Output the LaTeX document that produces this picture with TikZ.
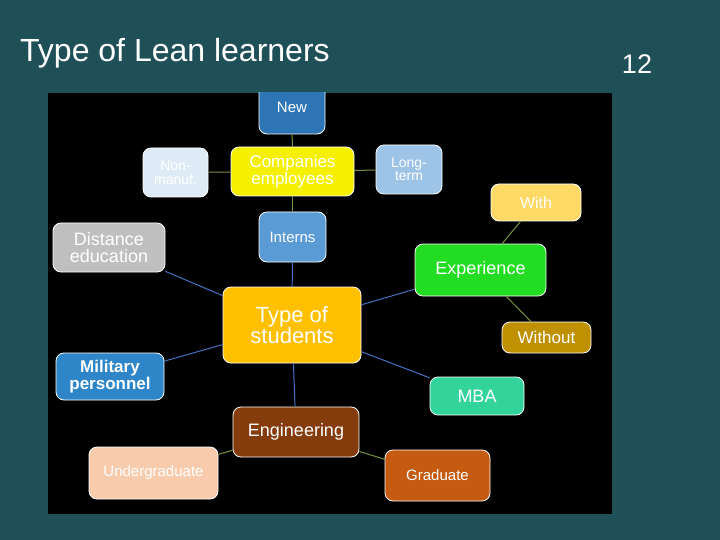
\documentclass[tikz,border=0pt]{standalone}
\usepackage{fontspec}
\setmainfont{Liberation Sans}
\usetikzlibrary{positioning}

\definecolor{slidebg}{RGB}{31,80,87}
\definecolor{linkgreen}{RGB}{119,147,60}
\definecolor{linkblue}{RGB}{68,114,196}
\definecolor{newblue}{RGB}{46,117,182}
\definecolor{compyellow}{RGB}{245,240,0}
\definecolor{nonblue}{RGB}{222,235,247}
\definecolor{longblue}{RGB}{157,195,230}
\definecolor{internblue}{RGB}{91,155,213}
\definecolor{distgray}{RGB}{191,191,191}
\definecolor{withyellow}{RGB}{255,217,102}
\definecolor{expgreen}{RGB}{34,221,34}
\definecolor{withoutgold}{RGB}{191,144,0}
\definecolor{typeorange}{RGB}{255,192,0}
\definecolor{milblue}{RGB}{46,134,200}
\definecolor{engbrown}{RGB}{132,60,12}
\definecolor{underpeach}{RGB}{248,203,173}
\definecolor{mbagreen}{RGB}{51,212,156}
\definecolor{gradorange}{RGB}{197,90,17}

\newcommand{\fs}[2]{\fontsize{#1}{#2}\selectfont}

\begin{document}
\begin{tikzpicture}[x = 1pt, y = -1pt,
  box/.style = {draw = white, line width = 0.8pt, rounded corners = 8pt,
                text = white, align = center, inner sep = 0pt},
  greenlink/.style = {draw = linkgreen, line width = 1pt},
  bluelink/.style = {draw = linkblue, line width = 1pt}]
% slide
\fill[slidebg] (0,0) rectangle (720,540);
\fill[black] (48,93) rectangle (612,514);
\node[anchor = base west, text = white, inner sep = 0pt, font = \fs{32}{38}] (title) at (20,62) {Type of Lean learners};
\node[anchor = base, text = white, inner sep = 0pt, font = \fs{27}{32}] (page) at (637,74) {12};

% boxes
\begin{scope}
\clip (48,93) rectangle (612,514);
\node[box, fill = newblue, minimum width = 66pt, minimum height = 54pt, font = \fs{15}{16}] (new) at (292,107) {New};
\end{scope}
\node[box, fill = compyellow, minimum width = 123pt, minimum height = 49pt, font = \fs{17}{16.5}] (comp) at (292.5,171.5) {Companies\\employees};
\node[box, fill = nonblue, minimum width = 65pt, minimum height = 49pt, font = \fs{14}{14}] (nonman) at (175.5,172.5) {Non-\\manuf.};
\node[box, fill = longblue, minimum width = 66pt, minimum height = 49pt, font = \fs{14}{13.5}] (longterm) at (409,169.5) {Long-\\term};
\node[box, fill = internblue, minimum width = 67pt, minimum height = 50pt, font = \fs{15}{16}] (interns) at (292.5,237) {Interns};
\node[box, fill = distgray, minimum width = 112pt, minimum height = 49pt, font = \fs{18}{17}] (dist) at (109,247.5) {Distance\\education};
\node[box, fill = withyellow, minimum width = 90pt, minimum height = 37pt, font = \fs{16}{16}] (with) at (536,202.5) {With};
\node[box, fill = expgreen, minimum width = 131pt, minimum height = 52pt, font = \fs{18}{18}] (exp) at (480.5,270) {Experience};
\node[box, fill = withoutgold, minimum width = 89pt, minimum height = 31pt, font = \fs{17}{17}] (without) at (546.5,337.5) {Without};
\node[box, fill = typeorange, minimum width = 138pt, minimum height = 76pt, font = \fs{22}{21}] (type) at (292,325) {Type of\\students};
\node[box, fill = milblue, minimum width = 108pt, minimum height = 47pt, font = \fs{17}{16.5}\bfseries] (mil) at (110,376.5) {Military\\personnel};
\node[box, fill = engbrown, minimum width = 126pt, minimum height = 50pt, font = \fs{18}{18}] (eng) at (296,432) {Engineering};
\node[box, fill = underpeach, minimum width = 129pt, minimum height = 52pt, font = \fs{15}{15}] (under) at (153.5,473) {Undergraduate};
\node[box, fill = mbagreen, minimum width = 94pt, minimum height = 38pt, font = \fs{18}{18}] (mba) at (477,396) {MBA};
\node[box, fill = gradorange, minimum width = 105pt, minimum height = 51pt, font = \fs{15}{15}] (grad) at (437.5,475.5) {Graduate};

% links
\draw[greenlink] (new) -- (comp);
\draw[greenlink] (comp) -- (nonman);
\draw[greenlink] (comp) -- (longterm);
\draw[greenlink] (comp) -- (interns);
\draw[bluelink] (interns) -- (type);
\draw[bluelink] (dist) -- (type);
\draw[bluelink] (exp) -- (type);
\draw[bluelink] (type) -- (mil);
\draw[bluelink] (type) -- (mba);
\draw[bluelink] (type) -- (eng);
\draw[greenlink] (exp) -- (with);
\draw[greenlink] (exp) -- (without);
\draw[greenlink] (eng) -- (under);
\draw[greenlink] (eng) -- (grad);
\end{tikzpicture}
\end{document}
